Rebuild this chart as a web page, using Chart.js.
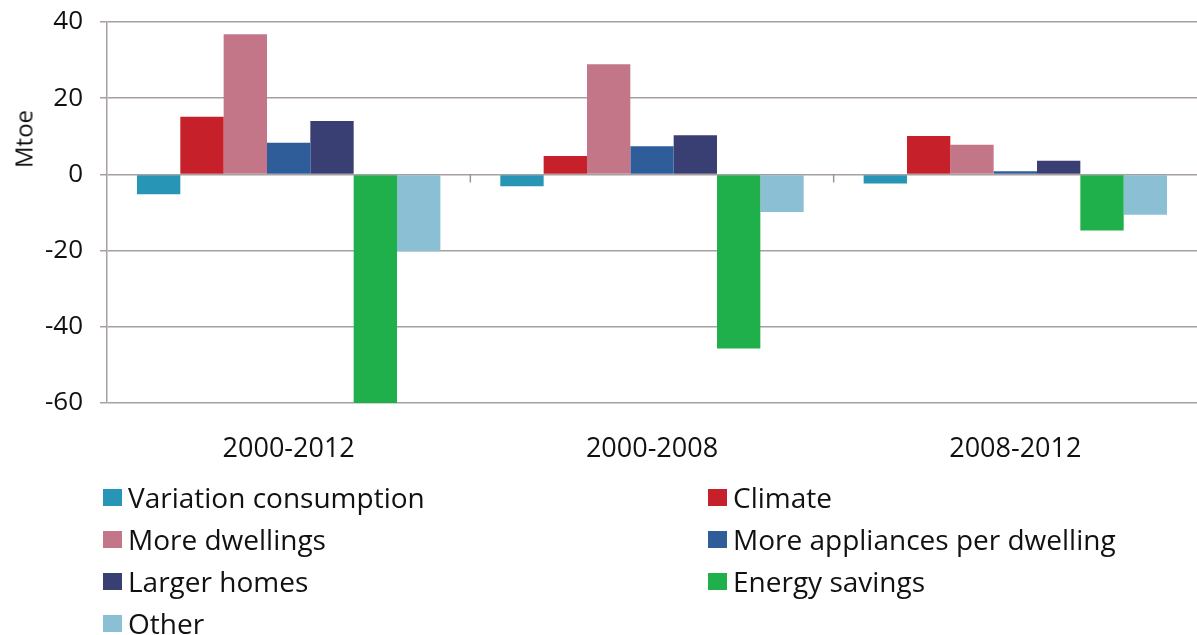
<!DOCTYPE html>
<html>
<head>
<meta charset="utf-8">
<script src="https://cdn.jsdelivr.net/npm/chart.js@4/dist/chart.umd.min.js"></script>
<style>
  html, body { margin: 0; padding: 0; background: #fff; }
  body { width: 1197px; height: 635px; position: relative; overflow: hidden; font-family: "Open Sans", sans-serif; }
  .chart-box { position: absolute; left: 0; top: 0; width: 1197px; height: 480px; }
  #ytitle { position: absolute; left: 23px; top: 139px; transform: translate(-50%, -50%) rotate(-90deg); font-size: 24px; color: #111; white-space: nowrap; }
  #legend { position: absolute; left: 103px; top: 476px; display: grid; grid-template-columns: 605px 470px; row-gap: 0; }
  #legend .item { display: flex; align-items: center; height: 42px; font-size: 28px; color: #111; white-space: nowrap; }
  #legend .swatch { width: 19px; height: 17px; margin-right: 6px; }
</style>
</head>
<body>
<div class="chart-box"><canvas id="chart"></canvas></div>
<div id="ytitle">Mtoe</div>
<div id="legend"></div>
<script>
const categories = ["2000-2012", "2000-2008", "2008-2012"];
const seriesNames = [
  "Variation consumption",
  "Climate",
  "More dwellings",
  "More appliances per dwelling",
  "Larger homes",
  "Energy savings",
  "Other",
];
const seriesColors = ["#2795b6", "#c6202a", "#c27688", "#2f5d9a", "#3a3f73", "#20b04b", "#8bbfd3"];

const variation = [-5.2, -3.1, -2.4];
const climate = [15.1, 4.8, 10.1];
const moreDwellings = [36.8, 28.9, 7.8];
const appliances = [8.3, 7.4, 0.8];
const largerHomes = [14.0, 10.3, 3.6];
const energySavings = [-60, -45.7, -14.7];
const other = [-20.2, -9.9, -10.6];

const yTicks = [40, 20, 0, -20, -40, -60];

const seriesValues = [variation, climate, moreDwellings, appliances, largerHomes, energySavings, other];

// small tick marks on the zero line between categories, like the excel original
const zeroTicks = {
  id: "zeroTicks",
  afterDatasetsDraw(chart) {
    const { ctx, scales: { x, y } } = chart;
    const y0 = y.getPixelForValue(0);
    ctx.save();
    ctx.strokeStyle = "#9c9494";
    ctx.lineWidth = 1.5;
    for (let i = 1; i < categories.length; i++) {
      const px = (x.getPixelForValue(i - 1) + x.getPixelForValue(i)) / 2;
      ctx.beginPath();
      ctx.moveTo(px, y0);
      ctx.lineTo(px, y0 + 8);
      ctx.stroke();
    }
    ctx.restore();
  },
};

const chart = new Chart(document.getElementById("chart"), {
  type: "bar",
  data: {
    labels: categories,
    datasets: seriesNames.map((name, i) => ({
      label: name,
      data: seriesValues[i],
      backgroundColor: seriesColors[i],
      borderWidth: 0,
      barPercentage: 1,
      categoryPercentage: 0.835,
    })),
  },
  options: {
    responsive: true,
    maintainAspectRatio: false,
    animation: false,
    layout: { padding: { top: 22, right: 0, left: 6, bottom: 0 } },
    plugins: { legend: { display: false }, tooltip: { enabled: false } },
    scales: {
      x: {
        afterFit: (scale) => { scale.height = 77; },
        grid: { display: false },
        border: { display: false },
        ticks: { color: "#111", font: { family: "Open Sans", size: 27 }, padding: 22 },
      },
      y: {
        min: -60,
        max: 40,
        afterBuildTicks: (scale) => { scale.ticks = yTicks.map((v) => ({ value: v })); },
        afterFit: (scale) => {
          scale.width = 101;
          scale.paddingTop = 0;
          scale.paddingBottom = 0;
        },
        grid: { color: "#a8a0a0", lineWidth: 1.5, tickLength: 7, drawTicks: true },
        border: { display: true, color: "#a8a0a0", width: 1.5 },
        ticks: { color: "#111", font: { family: "Open Sans", size: 26 }, padding: 17 },
      },
    },
  },
  plugins: [zeroTicks],
});

const legendEl = document.getElementById("legend");
chart.data.datasets.forEach((ds) => {
  const item = document.createElement("div");
  item.className = "item";
  item.innerHTML = `<span class="swatch" style="background:${ds.backgroundColor}"></span><span>${ds.label}</span>`;
  legendEl.appendChild(item);
});
</script>
</body>
</html>
